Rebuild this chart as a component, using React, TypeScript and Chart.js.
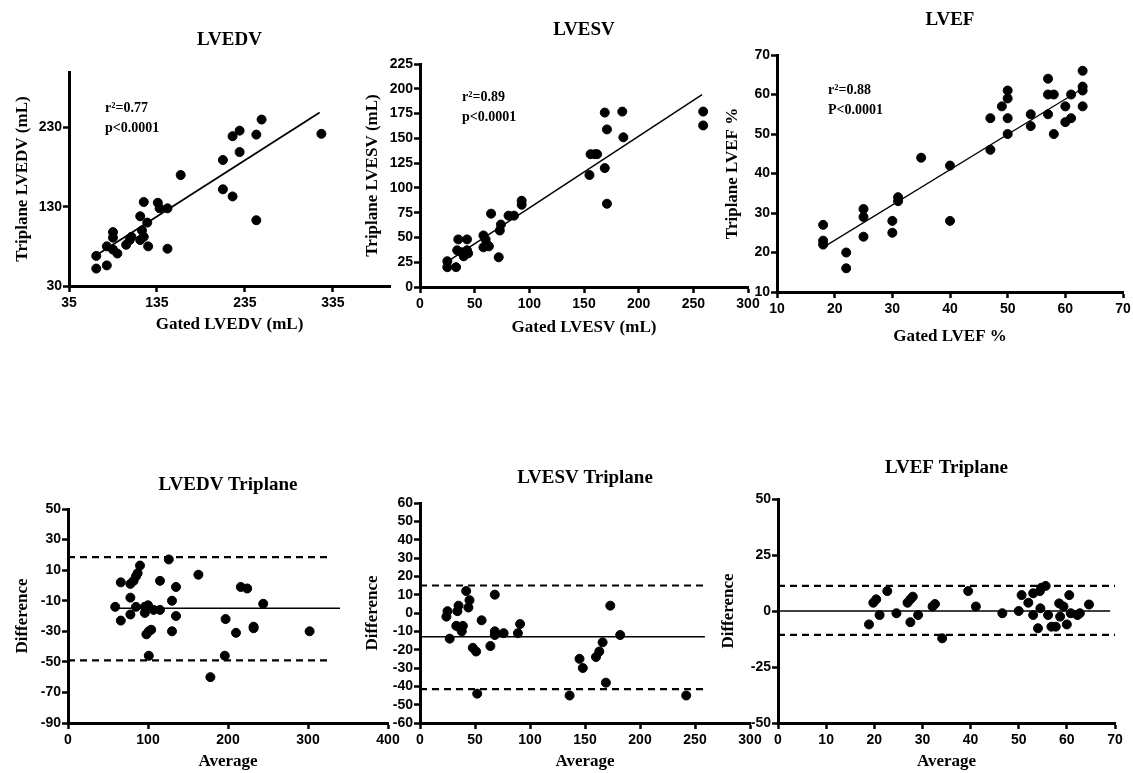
import React, { useEffect, useRef } from "react";
import { Chart, registerables } from "chart.js";
Chart.register(...registerables);

// ---------- DATA ----------
// Panel 1: LVEDV correlation
const lvedvGated = [66, 78, 66, 78, 85, 90, 85, 85, 100, 104, 106, 116, 118, 120, 125, 116, 120, 124, 136, 138, 147, 147, 162, 210, 210, 221, 221, 229, 229, 248, 254, 248, 322];
const lvedvTriplane = [52, 56, 68, 80, 76, 71, 91, 98, 82, 88, 92, 88, 100, 92, 80, 118, 136, 110, 135, 128, 128, 77, 170, 189, 152, 143, 219, 226, 199, 221, 240, 113, 222];
const lvedvFitX = [62, 320];
const lvedvFitY = [66, 249];
const lvedvXTicks = [35, 135, 235, 335];
const lvedvYTicks = [30, 130, 230];

// Panel 2: LVESV correlation
const lvesvGated = [25, 25, 33, 34, 35, 38, 40, 43, 43, 44, 58, 58, 60, 62, 63, 65, 72, 73, 74, 81, 86, 93, 93, 155, 156, 160, 162, 169, 169, 171, 171, 185, 186, 259, 259];
const lvesvTriplane = [20, 26, 20, 37, 48, 35, 31, 48, 37, 34, 40, 52, 48, 42, 41, 74, 30, 57, 63, 72, 72, 87, 83, 113, 134, 134, 134, 120, 176, 159, 84, 177, 151, 177, 163];
const lvesvFitX = [23, 258];
const lvesvFitY = [24, 194];
const lvesvXTicks = [0, 50, 100, 150, 200, 250, 300];
const lvesvYTicks = [0, 25, 50, 75, 100, 125, 150, 175, 200, 225];

// Panel 3: LVEF correlation
const lvefGated = [18, 18, 18, 22, 22, 25, 25, 25, 30, 30, 31, 31, 35, 40, 40, 47, 47, 49, 50, 50, 50, 50, 54, 54, 57, 57, 57, 58, 58, 60, 60, 61, 61, 63, 63, 63, 63];
const lvefTriplane = [27, 23, 22, 20, 16, 31, 29, 24, 28, 25, 34, 33, 44, 42, 28, 54, 46, 57, 61, 59, 54, 50, 55, 52, 64, 60, 55, 60, 50, 57, 53, 60, 54, 66, 62, 61, 57];
const lvefFitX = [18, 63];
const lvefFitY = [21.3, 61.5];
const lvefXTicks = [10, 20, 30, 40, 50, 60, 70];
const lvefYTicks = [10, 20, 30, 40, 50, 60, 70];

// Panel 4: LVEDV Bland-Altman
const lvedvAvg = [59, 66, 66, 78, 78, 78, 82, 85, 87, 90, 85, 96, 96, 100, 98, 101, 104, 101, 107, 115, 115, 126, 130, 130, 135, 135, 163, 178, 196, 197, 210, 216, 224, 232, 232, 244, 302];
const lvedvDiff = [-14, 2, -23, 1, -8, -19, 3, 6, 8, 13, -14, -14, -18, -13, -32, -30, -29, -46, -16, 3, -16, 17, -10, -30, -1, -20, 7, -60, -46, -22, -31, -1, -2, -27, -28, -12, -30];
const lvedvBias = -15;
const lvedvLimits = [18.5, -49];
const lvedvBiasRange = [55, 340];
const lvedvLimitRange = [0, 330];
const lvedvBAXTicks = [0, 100, 200, 300, 400];
const lvedvBAYTicks = [-90, -70, -50, -30, -10, 10, 30, 50];

// Panel 5: LVESV Bland-Altman
const lvesvAvg = [24, 25, 27, 34, 35, 33, 36, 38, 39, 42, 44, 45, 48, 51, 52, 56, 64, 68, 68, 68, 76, 89, 91, 136, 145, 148, 160, 163, 166, 169, 173, 182, 242];
const lvesvDiff = [-2, 1, -14, 1, 4, -7, -8, -10, -7, 12, 3, 7, -19, -21, -44, -4, -18, 10, -10, -12, -11, -11, -6, -45, -25, -30, -24, -21, -16, -38, 4, -12, -45];
const lvesvBias = -13;
const lvesvLimits = [15, -41.5];
const lvesvBiasRange = [0, 259];
const lvesvLimitRange = [0, 258];
const lvesvBAXTicks = [0, 50, 100, 150, 200, 250, 300];
const lvesvBAYTicks = [-60, -50, -40, -30, -20, -10, 0, 10, 20, 30, 40, 50, 60];

// Panel 6: LVEF Bland-Altman
const lvefAvg = [18.9, 19.8, 20.4, 21.1, 22.7, 24.6, 26.9, 27.5, 28, 27.5, 29.1, 32.1, 32.6, 34.1, 39.5, 41.1, 46.6, 50, 50.6, 52, 53, 53, 54, 54.4, 54.7, 55.6, 54.5, 56.1, 56.8, 57.7, 58.6, 58.4, 59.3, 60, 60.5, 60.8, 62.2, 62.7, 64.6];
const lvefDiff = [-6, 3.7, 5.2, -1.8, 8.9, -1, 3.7, 5.2, 6.4, -5, -1.8, 2, 3.1, -12.2, 8.9, 2, -1, 0, 7.1, 3.7, 7.9, -1.8, -7.7, 8.9, 10.4, 11.2, 1.2, -1.8, -7, -7, -2.5, 3.4, 2, -6, 7.1, -1, -1.8, -1, 2.9];
const lvefBias = 0;
const lvefLimits = [11.2, -10.7];
const lvefBiasRange = [0, 69];
const lvefLimitRange = [0, 70];
const lvefBAXTicks = [0, 10, 20, 30, 40, 50, 60, 70];
const lvefBAYTicks = [-50, -25, 0, 25, 50];

// ---------- STYLE ----------
const SANS = '"Liberation Sans", Arial, sans-serif';
const SERIF = '"Liberation Serif", "Times New Roman", serif';

type Geo = {
  left: number; top: number; w: number; h: number;
  yWidth: number; xHeight: number;
  padTop: number; padBottom: number; padRight: number; titlePadBottom: number;
};

type PanelDef = {
  geo: Geo;
  title: string;
  xTitle: string;
  yTitle: string;
  xMin: number; xMax: number; xTicks: number[];
  yMin: number; yMax: number; yTicks: number[];
  datasets: any[];
  notes?: { lines: string[]; dx: number; dy: number };
};

const pts = (xs: number[], ys: number[]) => xs.map((x, i) => ({ x, y: ys[i] }));

const scatterSet = (xs: number[], ys: number[]) => ({
  data: pts(xs, ys),
  backgroundColor: "#000",
  borderColor: "#000",
  pointRadius: 4.5,
  pointHoverRadius: 4.5,
  showLine: false,
});

const lineSet = (xs: number[], ys: number[], dashed: boolean, width = 1.5) => ({
  data: pts(xs, ys),
  borderColor: "#000",
  borderWidth: width,
  borderDash: dashed ? [7, 5] : [],
  pointRadius: 0,
  showLine: true,
  fill: false,
});

const baSets = (avg: number[], diff: number[], bias: number, limits: number[], biasRange: number[], limitRange: number[]) => [
  scatterSet(avg, diff),
  lineSet(biasRange, [bias, bias], false, 1.5),
  lineSet(limitRange, [limits[0], limits[0]], true, 2.2),
  lineSet(limitRange, [limits[1], limits[1]], true, 2.2),
];

function axis(min: number, max: number, ticks: number[], title: string, size: number, horizontal: boolean) {
  return {
    type: "linear",
    min,
    max,
    afterBuildTicks: (s: any) => {
      s.ticks = ticks.map((v) => ({ value: v }));
    },
    afterFit: (s: any) => {
      if (horizontal) s.height = size;
      else s.width = size;
      s.paddingLeft = 0;
      s.paddingRight = 0;
      s.paddingTop = 0;
      s.paddingBottom = 0;
    },
    ticks: {
      color: "#000",
      font: { family: SANS, size: 14, weight: "bold" },
      padding: horizontal ? 3 : 1,
      autoSkip: false,
      maxRotation: 0,
      minRotation: 0,
    },
    grid: {
      display: true,
      drawOnChartArea: false,
      drawTicks: true,
      tickLength: 6,
      tickWidth: 2.5,
      tickColor: "#000",
    },
    border: { display: true, color: "#000", width: 3 },
    title: {
      display: true,
      text: title,
      color: "#000",
      font: { family: SERIF, size: 17, weight: "bold", lineHeight: 1.2 },
      padding: 0,
    },
  };
}

const notesPlugin = (notes?: { lines: string[]; dx: number; dy: number }) => ({
  id: "notes",
  afterDatasetsDraw(chart: any) {
    if (!notes) return;
    const { ctx, chartArea } = chart;
    ctx.save();
    ctx.font = `bold 14px ${SERIF}`;
    ctx.fillStyle = "#000";
    ctx.textBaseline = "middle";
    ctx.textAlign = "left";
    notes.lines.forEach((t, i) => ctx.fillText(t, chartArea.left + notes.dx, chartArea.top + notes.dy + i * 20));
    ctx.restore();
  },
});

const panels: PanelDef[] = [
  {
    geo: { left: 12, top: 0, w: 390, h: 340, yWidth: 57, xHeight: 49.2, padTop: 28.6, padBottom: 4.8, padRight: 12, titlePadBottom: 20.6 },
    title: "LVEDV", xTitle: "Gated LVEDV (mL)", yTitle: "Triplane LVEDV (mL)",
    xMin: 35, xMax: 400, xTicks: lvedvXTicks, yMin: 30, yMax: 300, yTicks: lvedvYTicks,
    datasets: [scatterSet(lvedvGated, lvedvTriplane), lineSet(lvedvFitX, lvedvFitY, false, 1.8)],
    notes: { lines: ["r\u00B2=0.77", "p<0.0001"], dx: 36, dy: 36 },
  },
  {
    geo: { left: 362, top: 0, w: 402, h: 343, yWidth: 58, xHeight: 51.2, padTop: 18.6, padBottom: 4.8, padRight: 16, titlePadBottom: 22.6 },
    title: "LVESV", xTitle: "Gated LVESV (mL)", yTitle: "Triplane LVESV (mL)",
    xMin: 0, xMax: 300, xTicks: lvesvXTicks, yMin: 0, yMax: 225, yTicks: lvesvYTicks,
    datasets: [scatterSet(lvesvGated, lvesvTriplane), lineSet(lvesvFitX, lvesvFitY, false, 1.5)],
    notes: { lines: ["r\u00B2=0.89", "p<0.0001"], dx: 42, dy: 33 },
  },
  {
    geo: { left: 722, top: 0, w: 411, h: 352, yWidth: 55, xHeight: 55.2, padTop: 8.6, padBottom: 4.8, padRight: 10, titlePadBottom: 23.6 },
    title: "LVEF", xTitle: "Gated LVEF %", yTitle: "Triplane LVEF %",
    xMin: 10, xMax: 70, xTicks: lvefXTicks, yMin: 10, yMax: 70, yTicks: lvefYTicks,
    datasets: [scatterSet(lvefGated, lvefTriplane), lineSet(lvefFitX, lvefFitY, false, 1.2)],
    notes: { lines: ["r\u00B2=0.88", "P<0.0001"], dx: 51, dy: 35 },
  },
  {
    geo: { left: 12, top: 440, w: 388, h: 333, yWidth: 56, xHeight: 49.2, padTop: 33.6, padBottom: 0.8, padRight: 12, titlePadBottom: 12.6 },
    title: "LVEDV Triplane", xTitle: "Average", yTitle: "Difference",
    xMin: 0, xMax: 400, xTicks: lvedvBAXTicks, yMin: -90, yMax: 50, yTicks: lvedvBAYTicks,
    datasets: baSets(lvedvAvg, lvedvDiff, lvedvBias, lvedvLimits, lvedvBiasRange, lvedvLimitRange),
  },
  {
    geo: { left: 362, top: 440, w: 404, h: 333, yWidth: 58, xHeight: 49.2, padTop: 26.6, padBottom: 0.8, padRight: 16, titlePadBottom: 13.6 },
    title: "LVESV Triplane", xTitle: "Average", yTitle: "Difference",
    xMin: 0, xMax: 300, xTicks: lvesvBAXTicks, yMin: -60, yMax: 60, yTicks: lvesvBAYTicks,
    datasets: baSets(lvesvAvg, lvesvDiff, lvesvBias, lvesvLimits, lvesvBiasRange, lvesvLimitRange),
  },
  {
    geo: { left: 718, top: 440, w: 415, h: 333, yWidth: 60, xHeight: 49.2, padTop: 16.6, padBottom: 0.8, padRight: 18, titlePadBottom: 19.6 },
    title: "LVEF Triplane", xTitle: "Average", yTitle: "Difference",
    xMin: 0, xMax: 70, xTicks: lvefBAXTicks, yMin: -50, yMax: 50, yTicks: lvefBAYTicks,
    datasets: baSets(lvefAvg, lvefDiff, lvefBias, lvefLimits, lvefBiasRange, lvefLimitRange),
  },
];

function buildConfig(p: PanelDef): any {
  const g = p.geo;
  return {
    type: "scatter",
    data: { datasets: p.datasets },
    options: {
      animation: false,
      responsive: false,
      events: [],
      layout: { padding: { left: 0, right: g.padRight, top: g.padTop, bottom: g.padBottom } },
      plugins: {
        legend: { display: false },
        tooltip: { enabled: false },
        title: {
          display: true,
          text: p.title,
          color: "#000",
          fullSize: false,
          font: { family: SERIF, size: 19, weight: "bold", lineHeight: 1.2 },
          padding: { top: 0, bottom: g.titlePadBottom },
        },
      },
      scales: {
        x: axis(p.xMin, p.xMax, p.xTicks, p.xTitle, g.xHeight, true),
        y: axis(p.yMin, p.yMax, p.yTicks, p.yTitle, g.yWidth, false),
      },
    },
    plugins: [notesPlugin(p.notes)],
  };
}

function PanelChart({ p }: { p: PanelDef }) {
  const ref = useRef<HTMLCanvasElement | null>(null);
  useEffect(() => {
    if (!ref.current) return;
    const chart = new Chart(ref.current, buildConfig(p));
    return () => chart.destroy();
  }, [p]);
  return (
    <canvas
      ref={ref}
      width={p.geo.w}
      height={p.geo.h}
      style={{ position: "absolute", left: p.geo.left, top: p.geo.top, width: p.geo.w, height: p.geo.h }}
    />
  );
}

export default function App() {
  return (
    <div style={{ position: "absolute", left: 0, top: 0, width: 1133, height: 773, overflow: "hidden", background: "#fff" }}>
      {panels.map((p, i) => (
        <PanelChart key={i} p={p} />
      ))}
    </div>
  );
}
